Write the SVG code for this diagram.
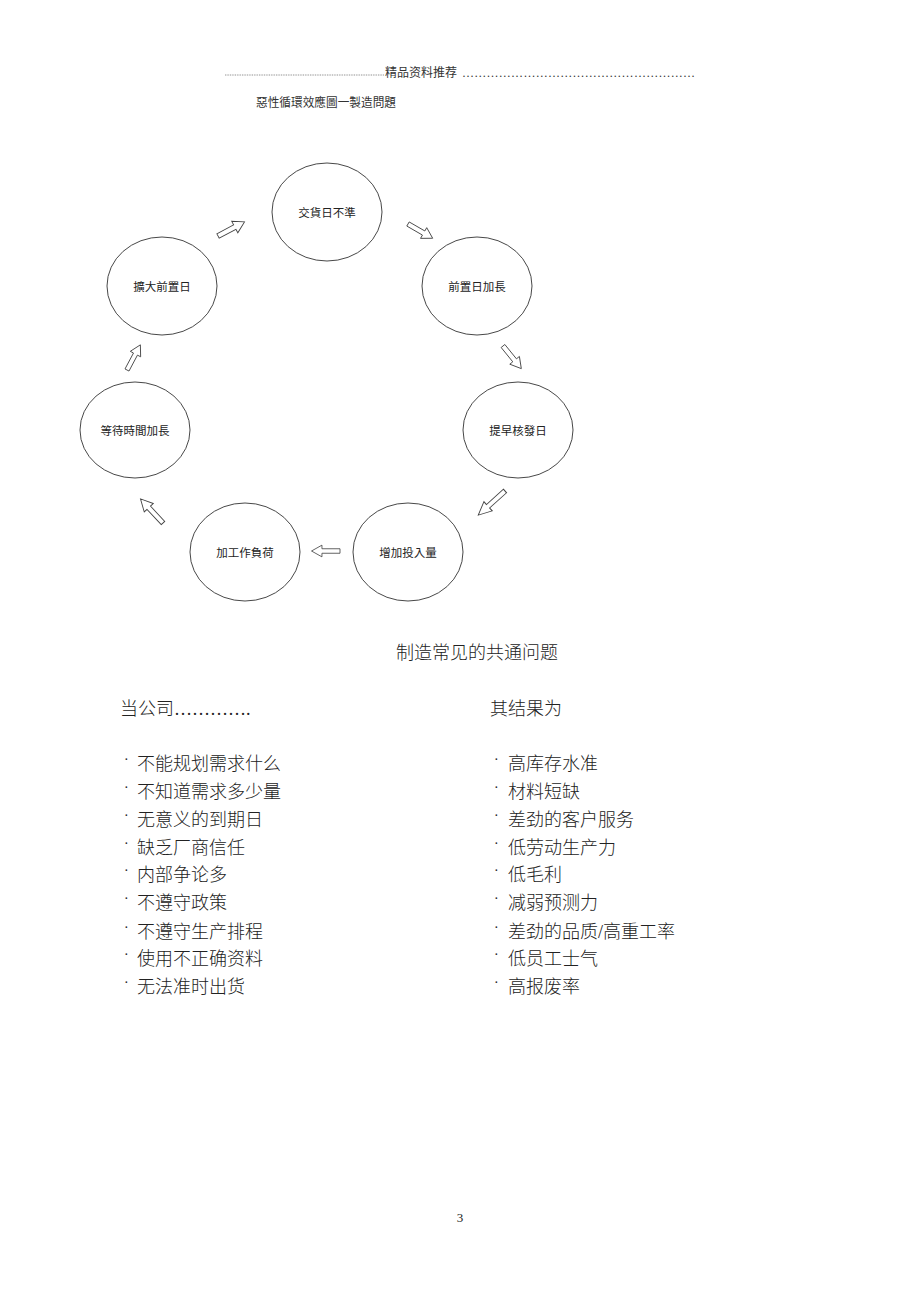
<svg xmlns="http://www.w3.org/2000/svg" xmlns:xlink="http://www.w3.org/1999/xlink" width="920" height="1302" viewBox="0 0 920 1302">
<style>
.node ellipse{fill:#fff;stroke:#333;stroke-width:0.9}
.nt{font-family:"Noto Sans CJK TC","Noto Sans CJK SC",sans-serif;font-size:11.5px;fill:#222;text-anchor:middle;dominant-baseline:central}
.hd{font-family:"Noto Sans CJK SC",sans-serif;font-size:12px;fill:#333}
.body{font-family:"Liberation Serif","Noto Sans CJK SC",serif;font-size:18px;fill:#222}
.cjk{font-family:"Noto Sans CJK SC","Liberation Serif",sans-serif;font-size:18px;fill:#222;font-weight:300}
.bul{font-family:"Liberation Serif",serif;font-size:14px;fill:#222}
.arr{fill:#fff;stroke:#444;stroke-width:0.9;stroke-linejoin:miter}
</style>
<defs>
<polygon id="blk" class="arr" points="0,-2.5 19,-2.5 19,-6.5 30,0 19,6.5 19,2.5 0,2.5"/>
</defs>
<rect width="920" height="1302" fill="#fff"/>
<g id="header">
<line x1="225" y1="75" x2="384" y2="75" stroke="#555" stroke-width="0.8" stroke-dasharray="0.8,0.9"/>
<text class="hd" x="385" y="77">精品资料推荐</text>
<text x="462" y="77" font-family="Liberation Serif,serif" font-size="12" fill="#333" textLength="233" lengthAdjust="spacing">…………………………………………………</text>
</g>
<text id="title" class="hd" x="256" y="107" font-size="11.5" textLength="140" lengthAdjust="spacingAndGlyphs" font-family="Noto Sans CJK TC,sans-serif">惡性循環效應圖一製造問題</text>
<g id="n1" class="node"><ellipse cx="327" cy="212" rx="55" ry="49"/><text class="nt" x="327" y="212">交貨日不準</text></g>
<g id="n2" class="node"><ellipse cx="477" cy="286" rx="55" ry="49"/><text class="nt" x="477" y="286">前置日加長</text></g>
<g id="n3" class="node"><ellipse cx="518" cy="430" rx="55" ry="48"/><text class="nt" x="518" y="430">提早核發日</text></g>
<g id="n4" class="node"><ellipse cx="408" cy="552" rx="55" ry="49"/><text class="nt" x="408" y="552">增加投入量</text></g>
<g id="n5" class="node"><ellipse cx="245" cy="552" rx="55" ry="49"/><text class="nt" x="245" y="552">加工作負荷</text></g>
<g id="n6" class="node"><ellipse cx="135" cy="430" rx="55" ry="48"/><text class="nt" x="135" y="430">等待時間加長</text></g>
<g id="n7" class="node"><ellipse cx="162" cy="286" rx="55" ry="49"/><text class="nt" x="162" y="286">擴大前置日</text></g>
<g id="connectors">
<use xlink:href="#blk" transform="translate(218,236) rotate(-28) scale(1.0,1)"/>
<use xlink:href="#blk" transform="translate(408,224) rotate(30) scale(0.95,0.95)"/>
<use xlink:href="#blk" transform="translate(503,346) rotate(51) scale(0.97,0.95)"/>
<use xlink:href="#blk" transform="translate(505,491) rotate(138) scale(1.2,0.95)"/>
<use xlink:href="#blk" transform="translate(340,551) rotate(180) scale(0.95,0.9)"/>
<use xlink:href="#blk" transform="translate(163,523) rotate(-133) scale(1.1,0.95)"/>
<use xlink:href="#blk" transform="translate(127,370) rotate(-62) scale(0.95,0.9)"/>
</g>
<g id="lists">
<text class="cjk" x="396" y="659">制造常见的共通问题</text>
<text class="cjk" x="120" y="715">当公司<tspan font-family="Liberation Serif,serif" font-weight="400">………….</tspan></text>
<text class="cjk" x="490" y="715">其结果为</text>
<g class="bul">
<text x="124" y="764">·</text><text x="124" y="792">·</text><text x="124" y="820">·</text><text x="124" y="848">·</text><text x="124" y="875">·</text><text x="124" y="903">·</text><text x="124" y="932">·</text><text x="124" y="959">·</text><text x="124" y="987">·</text>
<text x="494" y="764">·</text><text x="494" y="792">·</text><text x="494" y="820">·</text><text x="494" y="848">·</text><text x="494" y="875">·</text><text x="494" y="903">·</text><text x="494" y="932">·</text><text x="494" y="959">·</text><text x="494" y="987">·</text>
</g>
<g class="cjk">
<text x="137" y="770">不能规划需求什么</text>
<text x="137" y="798">不知道需求多少量</text>
<text x="137" y="826">无意义的到期日</text>
<text x="137" y="854">缺乏厂商信任</text>
<text x="137" y="881">内部争论多</text>
<text x="137" y="909">不遵守政策</text>
<text x="137" y="938">不遵守生产排程</text>
<text x="137" y="965">使用不正确资料</text>
<text x="137" y="993">无法准时出货</text>
<text x="508" y="770">高库存水准</text>
<text x="508" y="798">材料短缺</text>
<text x="508" y="826">差劲的客户服务</text>
<text x="508" y="854">低劳动生产力</text>
<text x="508" y="881">低毛利</text>
<text x="508" y="909">减弱预测力</text>
<text x="508" y="938">差劲的品质<tspan font-family="Liberation Serif,serif" font-weight="400">/</tspan>高重工率</text>
<text x="508" y="965">低员工士气</text>
<text x="508" y="993">高报废率</text>
</g>
</g>
<text id="page" x="460" y="1222" font-family="Liberation Serif,serif" font-size="13" fill="#222" text-anchor="middle">3</text>
</svg>
